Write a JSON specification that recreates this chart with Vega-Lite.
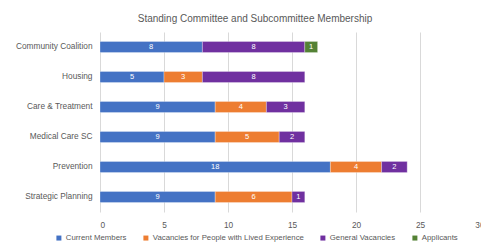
{
  "$schema": "https://vega.github.io/schema/vega-lite/v6.json",
  "autosize": "none",
  "padding": {"left": 100, "top": 32, "right": 0, "bottom": 35},
  "width": 384,
  "height": 180,
  "background": "white",
  "title": {"text": "Standing Committee and Subcommittee Membership", "fontSize": 10, "font": "Liberation Sans", "fontWeight": "normal", "color": "#595959", "anchor": "middle", "frame": "group", "dx": -37, "offset": 8},
  "config": {"view": {"stroke": null}, "font": "Liberation Sans"},
  "data": {"values": [
    {"committee": "Community Coalition", "type": "Current Members", "o": 1, "value": 8},
    {"committee": "Community Coalition", "type": "General Vacancies", "o": 3, "value": 8},
    {"committee": "Community Coalition", "type": "Applicants", "o": 4, "value": 1},
    {"committee": "Housing", "type": "Current Members", "o": 1, "value": 5},
    {"committee": "Housing", "type": "Vacancies for People with Lived Experience", "o": 2, "value": 3},
    {"committee": "Housing", "type": "General Vacancies", "o": 3, "value": 8},
    {"committee": "Care & Treatment", "type": "Current Members", "o": 1, "value": 9},
    {"committee": "Care & Treatment", "type": "Vacancies for People with Lived Experience", "o": 2, "value": 4},
    {"committee": "Care & Treatment", "type": "General Vacancies", "o": 3, "value": 3},
    {"committee": "Medical Care SC", "type": "Current Members", "o": 1, "value": 9},
    {"committee": "Medical Care SC", "type": "Vacancies for People with Lived Experience", "o": 2, "value": 5},
    {"committee": "Medical Care SC", "type": "General Vacancies", "o": 3, "value": 2},
    {"committee": "Prevention", "type": "Current Members", "o": 1, "value": 18},
    {"committee": "Prevention", "type": "Vacancies for People with Lived Experience", "o": 2, "value": 4},
    {"committee": "Prevention", "type": "General Vacancies", "o": 3, "value": 2},
    {"committee": "Strategic Planning", "type": "Current Members", "o": 1, "value": 9},
    {"committee": "Strategic Planning", "type": "Vacancies for People with Lived Experience", "o": 2, "value": 6},
    {"committee": "Strategic Planning", "type": "General Vacancies", "o": 3, "value": 1}
  ]},
  "transform": [
    {"stack": "value", "groupby": ["committee"], "sort": [{"field": "o"}], "as": ["v0", "v1"]},
    {"calculate": "(datum.v0 + datum.v1) / 2", "as": "mid"}
  ],
  "encoding": {
    "y": {"field": "committee", "type": "nominal", "sort": null, "title": null,
      "scale": {"paddingInner": 0.63, "paddingOuter": 0.315},
      "axis": {"domain": false, "ticks": false, "labelFontSize": 8.3, "labelColor": "#595959", "labelPadding": 8, "grid": false}}
  },
  "layer": [
    {
      "mark": {"type": "bar", "stroke": "white", "strokeWidth": 0.5, "strokeOpacity": 0.6},
      "encoding": {
        "x": {"field": "v0", "type": "quantitative", "title": null,
          "scale": {"domain": [0, 30], "nice": false},
          "axis": {"values": [0, 5, 10, 15, 20, 25, 30], "domain": false, "ticks": false, "gridColor": "#d9d9d9", "gridWidth": 1, "labelFontSize": 8.3, "labelColor": "#595959", "labelPadding": 8}},
        "x2": {"field": "v1"},
        "color": {"field": "type", "type": "nominal",
          "scale": {"domain": ["Current Members", "Vacancies for People with Lived Experience", "General Vacancies", "Applicants"], "range": ["#4472C4", "#ED7D31", "#7030A0", "#548235"]},
          "legend": {"orient": "none", "legendX": -45, "legendY": 202, "direction": "horizontal", "title": null, "symbolType": "square", "symbolSize": 25, "labelFontSize": 7.8, "labelLimit": 300, "labelColor": "#595959", "columnPadding": 15, "symbolStrokeWidth": 0, "labelOffset": 3}},
        "order": {"field": "o"}
      }
    },
    {
      "mark": {"type": "text", "color": "white", "fontSize": 7.5},
      "encoding": {
        "x": {"field": "mid", "type": "quantitative"},
        "text": {"field": "value", "type": "quantitative"}
      }
    }
  ]
}
